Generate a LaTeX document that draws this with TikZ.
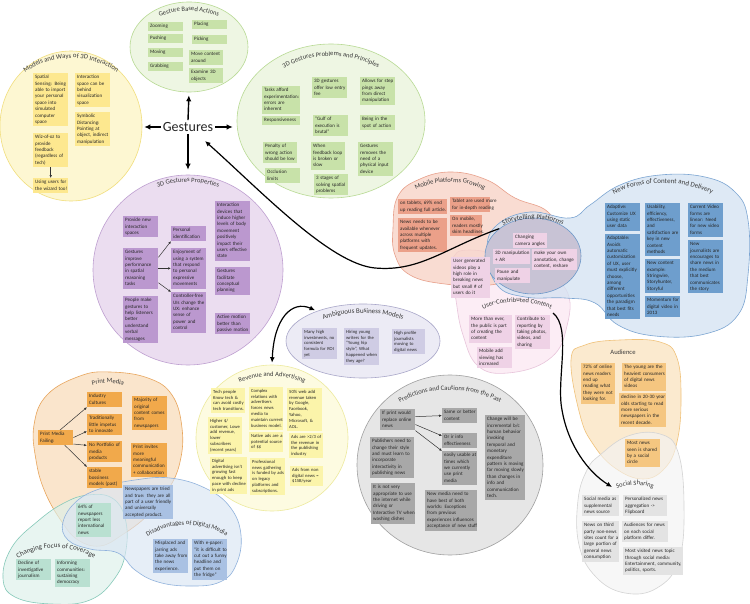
\documentclass[tikz,border=0pt]{standalone}
\usepackage{fontspec}
\setmainfont{Carlito}
\usetikzlibrary{shapes.geometric,arrows.meta,decorations.text}
\definecolor{cGF}{HTML}{EEF6E3}\definecolor{cGD}{HTML}{B8DA94}\definecolor{cGB}{HTML}{C8E2A9}
\definecolor{cYF}{HTML}{FDF7D2}\definecolor{cYD}{HTML}{F1DE7C}\definecolor{cYB}{HTML}{FDE88F}
\definecolor{cPF}{HTML}{EBDDF0}\definecolor{cPD}{HTML}{BFA0D1}\definecolor{cPB}{HTML}{BB98CF}
\definecolor{cMF}{HTML}{F7D1C4}\definecolor{cMD}{HTML}{E8A08B}\definecolor{cMB}{HTML}{EBA089}
\definecolor{cSF}{HTML}{C8C3D5}\definecolor{cSD}{HTML}{6E99C9}\definecolor{cKB}{HTML}{EFD2E6}
\definecolor{cUF}{HTML}{FBE7F2}\definecolor{cUD}{HTML}{E8C5DB}
\definecolor{cNF}{HTML}{D3E2F2}\definecolor{cND}{HTML}{7CA5D2}\definecolor{cNB}{HTML}{6E9ECD}
\definecolor{cOF}{HTML}{FAE3BF}\definecolor{cOD}{HTML}{F0C27A}\definecolor{cOB}{HTML}{F5C680}
\definecolor{cXF}{HTML}{F3F3F3}\definecolor{cXD}{HTML}{D4D4D4}\definecolor{cXB}{HTML}{E3E3E3}
\definecolor{cAF}{HTML}{ECEBF5}\definecolor{cAD}{HTML}{A9A7C9}\definecolor{cAB}{HTML}{CFCCE4}
\definecolor{cRF}{HTML}{FDFBE1}\definecolor{cRD}{HTML}{EDEA9E}\definecolor{cRB}{HTML}{FBF4AA}
\definecolor{cQF}{HTML}{E6E6E6}\definecolor{cQD}{HTML}{A0A0A0}\definecolor{cQB}{HTML}{A8A8A8}
\definecolor{cIF}{HTML}{F9DDBC}\definecolor{cID}{HTML}{E8A55C}\definecolor{cIB}{HTML}{F1A94B}
\definecolor{cTF}{HTML}{DCF0EA}\definecolor{cTD}{HTML}{86C9B9}\definecolor{cTB}{HTML}{B9E0D1}
\definecolor{cDF}{HTML}{DAE5F4}\definecolor{cDD}{HTML}{90B2DC}\definecolor{cDB}{HTML}{A9C1E3}
\definecolor{cTT}{HTML}{383838}
\newcommand\bxf{\fontsize{5}{6.4}\selectfont}
\newcommand\bxs{\fontsize{4.6}{5.8}\selectfont}
\newcommand\tfA{\fontsize{6.6}{8}\selectfont}
\newcommand\tfB{\fontsize{7}{8.4}\selectfont}
\newcommand\tfC{\fontsize{6.8}{8.2}\selectfont}
\newcommand\Bx[6]{\pgfmathsetmacro\bxw{#5-4}\node[bx,#2,text width=\bxw pt] (#1) at (#3,#4) {\begin{tabular}{@{}l@{}}#6\end{tabular}};}
\newcommand\ttl[8]{\path[decorate,decoration={text along path,text align=center,text color=cTT,text={|#8|#7}}] (#1,#2) ++(#5:#3 and #4) arc[start angle=#5,end angle=#6,x radius=#3,y radius=#4];}
\tikzset{
 bx/.style={anchor=north west,inner xsep=2pt,inner ysep=1pt,align=left,text=black!85},
 boxG/.style={fill=cGB,font=\bxf}, boxY/.style={fill=cYB,font=\bxf}, boxP/.style={fill=cPB,font=\bxf},
 boxM/.style={fill=cMB,font=\bxf}, boxK/.style={fill=cKB,font=\bxf}, boxN/.style={fill=cNB,font=\bxf},
 boxO/.style={fill=cOB,font=\bxf}, boxX/.style={fill=cXB,font=\bxf}, boxA/.style={fill=cAB,font=\bxs},
 boxR/.style={fill=cRB,font=\bxs}, boxQ/.style={fill=cQB,font=\bxf}, boxI/.style={fill=cIB,font=\bxf},
 boxT/.style={fill=cTB,font=\bxf}, boxD/.style={fill=cDB,font=\bxf},
 el/.style={ellipse,line width=0.6pt,inner sep=0pt},
 blob/.style={line width=0.6pt,fill opacity=0.75},
 garr/.style={line width=1.4pt,black,-{Latex[length=6pt,width=5.5pt]}},
 larr/.style={line width=1.2pt,black,-{Latex[length=5.5pt,width=5pt]}},
 larrb/.style={line width=1.2pt,black,{Latex[length=5.5pt,width=5pt]}-{Latex[length=5.5pt,width=5pt]}},
 sarr/.style={line width=0.5pt,black!80,-{Latex[length=2.8pt,width=2.4pt]}}
}
\begin{document}
\begin{tikzpicture}[x=1pt,y=-1pt]
\useasboundingbox (0,0) rectangle (750,604);
\fill[white] (0,0) rectangle (750,604);
% ellipses
\node[el,fill=cGF,draw=cGD,minimum width=118pt,minimum height=90pt] (actE) at (189,47) {};
\node[el,fill=cYF,draw=cYD,minimum width=142pt,minimum height=150pt] (modE) at (71,126) {};
\node[el,fill=cGF,draw=cGD,minimum width=188pt,minimum height=154pt] (probE) at (331,121) {};
\node[el,fill=cPF,draw=cPD,minimum width=190pt,minimum height=190pt] (propE) at (188,270) {};
\node[el,fill=cAF,draw=cAD,minimum width=154pt,minimum height=74pt] (abE) at (363,341) {};
\node[el,fill=cRF,draw=cRD,minimum width=152pt,minimum height=146pt] (rvE) at (272,438) {};
\node[el,fill=cQF,draw=cQD,minimum width=186pt,minimum height=180pt] (prE) at (450,465) {};
% blobs
\draw[blob,fill=cUF,draw=cUD] plot[smooth cycle,tension=0.7] coordinates {(452,262) (470,250) (520,262) (565,288) (566,330) (548,360) (508,373) (478,366) (463,335) (456,300)};
\draw[blob,fill=cMF,draw=cMD] plot[smooth cycle,tension=0.7] coordinates {(393,228) (398,196) (420,179) (452,172) (487,180) (515,198) (548,212) (560,240) (535,272) (490,285) (445,284) (410,275) (395,255)};
\draw[blob,fill=cNF,draw=cND] plot[smooth cycle,tension=0.7] coordinates {(487,250) (497,225) (530,212) (570,218) (590,205) (620,185) (660,175) (705,177) (735,192) (748,220) (748,275) (738,315) (705,334) (655,336) (618,325) (595,303) (565,298) (525,297) (497,285)};
\node[el,fill=cSF,draw=cSD,minimum width=96pt,minimum height=76pt] (stE) at (533,256) {};
\draw[blob,fill=cOF,draw=cOD] plot[smooth cycle,tension=0.7] coordinates {(571,360) (585,345) (620,340) (660,342) (677,358) (681,400) (677,442) (665,468) (643,479) (615,468) (593,444) (580,415)};
\draw[blob,fill=cXF,draw=cXD,fill opacity=0.65] plot[smooth cycle,tension=0.7] coordinates {(600,455) (628,436) (660,434) (678,452) (684,505) (679,560) (657,588) (625,593) (596,577) (579,545) (578,500) (587,470)};
\draw[blob,fill=cIF,draw=cID] plot[smooth cycle,tension=0.7] coordinates {(80,376) (110,372) (148,378) (172,395) (182,428) (180,462) (168,490) (148,515) (122,535) (100,546) (78,540) (62,522) (45,492) (36,460) (34,425) (47,395)};
\draw[blob,fill=cTF,draw=cTD,fill opacity=0.65] plot[smooth cycle,tension=0.7] coordinates {(3,578) (12,547) (38,521) (64,503) (88,495) (112,498) (125,518) (126,550) (115,578) (90,600) (52,604) (15,597)};
\draw[blob,fill=cDF,draw=cDD,fill opacity=0.65] plot[smooth cycle,tension=0.7] coordinates {(63,522) (78,500) (105,487) (135,480) (170,478) (205,488) (230,507) (241,535) (236,565) (220,582) (190,586) (158,582) (135,570) (118,553) (90,549) (68,540)};
% titles
\ttl{189}{47}{55}{36}{200}{340}{Gesture Based Actions}{\tfA}
\ttl{71}{128}{76}{70}{190}{350}{Models and Ways of 3D Interaction}{\tfC}
\ttl{331}{121}{81}{65}{195}{345}{3D Gestures Problems and Principles}{\tfA}
\ttl{188}{270}{88}{88}{225}{315}{3D Gestures Properties}{\tfA}
\ttl{450}{242}{70}{60}{215}{325}{Mobile Platforms Growing}{\tfA}
\ttl{533}{255}{54}{36}{190}{350}{Storytelling Platforms}{\tfB}
\ttl{517}{360}{71}{58}{220}{320}{User-Contributed Content}{\tfA}
\ttl{663}{260}{95}{77}{215}{325}{New Forms of Content and Delivery}{\tfB}
\ttl{635}{540}{55}{55}{240}{300}{Social Sharing}{\tfA}
\ttl{363}{341}{62}{28}{190}{350}{Ambiguous Business Models}{\tfB}
\ttl{272}{438}{70}{62}{215}{325}{Revenue and Advertising}{\tfA}
\ttl{450}{465}{90}{75}{210}{330}{Predictions and Cautions from the Past}{\tfA}
\ttl{108}{440}{57}{57}{245}{295}{Print Media}{\tfA}
\ttl{56}{600}{64}{52}{195}{345}{Changing Focus of Coverage}{\tfB}
\ttl{187}{583}{66}{58}{195}{345}{Disadvantages of Digital Media}{\tfA}
\node[font=\tfA,text=cTT] (audT) at (623,352) {Audience};
\node[font=\fontsize{14}{16}\selectfont,text=black!85,inner sep=2pt] (gest) at (188,127) {Gestures};
% actions
\Bx{aZoom}{boxG}{148}{22}{35}{Zooming}
\Bx{aPush}{boxG}{148}{34}{35}{Pushing}
\Bx{aMove}{boxG}{148}{48}{35}{Moving}
\Bx{aGrab}{boxG}{148}{62}{35}{Grabbing}
\Bx{aPlace}{boxG}{192}{20}{35}{Placing}
\Bx{aPick}{boxG}{192}{35}{35}{Picking}
\Bx{aMoveC}{boxG}{189}{50}{34}{Move content\\around}
\Bx{aExam}{boxG}{189}{68}{34}{Examine 3D\\objects}
% models
\Bx{mSpat}{boxY}{33}{73}{35}{Spatial\\Sensing: Being\\able to import\\your personal\\space into\\simulated\\computer\\space}
\Bx{mInter}{boxY}{75}{73}{35}{Interaction\\space can be\\behind\\visualization\\space}
\Bx{mSymb}{boxY}{75}{112}{35}{Symbolic\\Distancing:\\Pointing at\\object, indirect\\manipulation}
\Bx{mWiz}{boxY}{33}{133}{35}{Wiz-of-oz to\\provide\\feedback\\(regardless of\\tech)}
\Bx{mUsing}{boxY}{33}{178}{35}{Using users for\\the wizard too!}
% problems
\Bx{pTask}{boxG}{262}{86}{38}{Tasks afford\\experimentation:\\errors are\\inherent}
\Bx{pResp}{boxG}{262}{116}{38}{Responsiveness}
\Bx{pPen}{boxG}{263}{142}{34}{Penalty of\\wrong action\\should be low}
\Bx{pOccl}{boxG}{265}{168}{35}{Occlusion\\limits}
\Bx{pLow}{boxG}{312}{77}{35}{3D gestures\\offer low entry\\fee}
\Bx{pGulf}{boxG}{313}{115}{35}{“Gulf of\\execution is\\brutal”}
\Bx{pFeed}{boxG}{311}{142}{34}{When\\feedback loop\\is broken or\\slow}
\Bx{pStag}{boxG}{314}{174}{34}{3 stages of\\solving spatial\\problems}
\Bx{pAllow}{boxG}{360}{77}{35}{Allows for step\\pings away\\from direct\\manipulation}
\Bx{pBeing}{boxG}{360}{115}{35}{Being in the\\spot of action}
\Bx{pRem}{boxG}{358}{142}{35}{Gestures\\removes the\\need of a\\physical input\\device}
% properties
\Bx{gProv}{boxP}{123}{216}{35}{Provide new\\interaction\\spaces}
\Bx{gImp}{boxP}{123}{248}{35}{Gestures\\improve\\performance\\in spatial\\reasoning\\tasks}
\Bx{gPeople}{boxP}{123}{296}{35}{People make\\gestures to\\help listeners\\better\\understand\\verbal\\messages}
\Bx{gPers}{boxP}{171}{226}{35}{Personal\\identification}
\Bx{gEnj}{boxP}{171}{248}{35}{Enjoyment of\\using a system\\that respond\\to personal\\expressive\\movements}
\Bx{gCtrl}{boxP}{171}{292}{35}{Controller-free\\UIs change the\\UX: enhance\\sense of\\power and\\control}
\Bx{gDev}{boxP}{215}{201}{35}{Interaction\\devices that\\induce higher\\levels of body\\movement\\positively\\impact their\\users effective\\state}
\Bx{gFac}{boxP}{215}{267}{35}{Gestures\\facilitate\\conceptual\\planning}
\Bx{gAct}{boxP}{215}{313}{35}{Active motion\\better than\\passive motion}
% mobile
\Bx{mbTab}{boxM}{398}{199}{49}{on tablets, 69\% end\\up reading full article.}
\Bx{mbUsed}{boxM}{450}{197}{40}{Tablet are used more\\for in-depth reading}
\Bx{mbNews}{boxM}{398}{218}{49}{News needs to be\\available whenever\\across multiple\\platforms with\\frequent updates.}
\Bx{mbMob}{boxM}{450}{215}{32}{On mobile,\\readers mostly\\skim headlines.}
\Bx{mbUGV}{boxK}{451}{257}{39}{User generated\\videos play a\\high role in\\breaking news\\but small \# of\\users do it}
% storytelling
\Bx{sCam}{boxK}{513}{233}{34}{Changing\\camera angles}
\Bx{sMan}{boxK}{493}{249}{37}{3D manipulation\\+ AR}
\Bx{sMake}{boxK}{532}{249}{45}{make your own\\annotation, change\\content, reshare}
\Bx{sPause}{boxK}{495}{268}{35}{Pause and\\manipulate}
% user contributed
\Bx{uMore}{boxK}{469}{315}{43}{More than ever,\\the public is part\\of creating the\\content}
\Bx{uContr}{boxK}{515}{315}{35}{Contribute to\\reporting by\\taking photos,\\videos, and\\sharing}
\Bx{uMob}{boxK}{477}{347}{35}{Mobile add\\viewing has\\increased}
% new forms
\Bx{nAdaptive}{boxN}{605}{203}{35}{Adaptive:\\Customize UX\\using static\\user data}
\Bx{nAdaptable}{boxN}{605}{234}{35}{Adaptable:\\Avoids\\automatic\\customization\\of UX, user\\must explicitly\\choose,\\among\\different\\opportunities\\the paradigm\\that best fits\\needs}
\Bx{nUsab}{boxN}{645}{203}{35}{Usability,\\efficiency,\\effectiveness,\\and\\satisfaction are\\key in new\\content\\methods}
\Bx{nNew}{boxN}{645}{259}{35}{New content\\example:\\Stringwire,\\Storyhunter,\\Storyful}
\Bx{nMom}{boxN}{645}{296}{35}{Momentum for\\digital video in\\2013}
\Bx{nCurr}{boxN}{688}{203}{35}{Current Video\\forms are\\linear: Need\\for new video\\forms}
\Bx{nJourn}{boxN}{688}{240}{35}{New\\journalists are\\encourages to\\share news in\\the medium\\that best\\communicates\\the story}
% audience
\Bx{au72}{boxO}{581}{363}{34}{72\% of online\\news readers\\end up\\reading what\\they were not\\looking for.}
\Bx{auYoung}{boxO}{622}{363}{44}{The young are the\\heaviest consumers\\of digital news\\videos}
\Bx{auDecl}{boxO}{619}{393}{47}{decline in 20-30 year\\olds starting to read\\more serious\\newspapers in the\\recent decade.}
\Bx{auMost}{boxO}{625}{439}{35}{Most news\\seen is shared\\by a social\\circle}
% social
\Bx{soMedia}{boxX}{582}{495}{37}{Social media as\\supplemental\\news source}
\Bx{soPers}{boxX}{623}{495}{44}{Personalized news\\aggregation ->\\Flipboard}
\Bx{soThird}{boxX}{582}{521}{37}{News on third\\party non-news\\sites count for a\\large portion of\\general news\\consumption}
\Bx{soAud}{boxX}{622}{521}{46}{Audiences for news\\on each social\\platform differ.}
\Bx{soMost}{boxX}{623}{547}{60}{Most visited news topic\\through social media:\\Entertainment, community,\\politics, sports.}
% ambiguous
\Bx{abMany}{boxA}{302}{328}{35}{Many high\\investments, no\\consistent\\formula for ROI\\yet}
\Bx{abHire}{boxA}{344}{328}{35}{Hiring young\\writers for the\\“Young hip\\style”, What\\happened when\\they age?}
\Bx{abHigh}{boxA}{392}{329}{33}{High profile\\journalists\\moving to\\digital news}
% revenue
\Bx{rTech}{boxR}{211}{388}{34}{Tech people\\Know tech \&\\can avoid costly\\tech transitions.}
\Bx{rHigh}{boxR}{208}{417}{34}{Higher \$/\\customer, Lowe\\add revenue,\\lower\\subscribers\\(recent years)}
\Bx{rDig}{boxR}{210}{457}{37}{Digital\\advertising isn't\\growing fast\\enough to keep\\pace with decline\\in print ads}
\Bx{rComp}{boxR}{249}{387}{34}{Complex\\relations with\\advertisers\\forces news\\media to\\maintain current\\business model.}
\Bx{rNat}{boxR}{249}{432}{34}{Native ads are a\\potential source\\of \$\$}
\Bx{rProf}{boxR}{250}{458}{35}{Professional\\news gathering\\is funded by ads\\on legacy\\platforms and\\subscriptions.}
\Bx{rFifty}{boxR}{287}{388}{35}{50\% web add\\revenue taken\\by Google,\\Facebook,\\Yahoo,\\Microsoft, \&\\AOL.}
\Bx{rAds}{boxR}{289}{433}{34}{Ads are >2/3 of\\the revenue in\\the publishing\\industry}
\Bx{rNon}{boxR}{290}{466}{33}{Ads from non\\digital news =\\\$15B/year}
% predictions
\Bx{prIf}{boxQ}{380}{409}{35}{If print would\\replace online\\news}
\Bx{prPub}{boxQ}{370}{437}{44}{Publishers need to\\change their style\\and must learn to\\incorporate\\interactivity in\\publishing news}
\Bx{prNot}{boxQ}{371}{483}{44}{It is not very\\appropriate to use\\the internet while\\driving or\\Interactive TV when\\washing dishes}
\Bx{prSame}{boxQ}{442}{408}{35}{Same or better\\content}
\Bx{prOr}{boxQ}{442}{433}{35}{Or ir info\\effectiveness}
\Bx{prEasy}{boxQ}{442}{451}{35}{easily usable at\\times which\\we currently\\use print\\media}
\Bx{prNew}{boxQ}{425}{490}{52}{New media need to\\have best of both\\worlds: Exceptions\\from previous\\experiences influences\\acceptance of new stuff}
\Bx{prChange}{boxQ}{485}{415}{40}{Change will be\\incremental b/c\\human behavior\\invoking\\temporal and\\monetary\\expenditure\\pattern is moving\\far moving slowly\\than changes in\\info and\\communication\\tech.}
% print
\Bx{pmFail}{boxI}{38}{430}{35}{Print Media\\Failing:}
\Bx{pmInd}{boxI}{87}{392}{35}{Industry\\Cultures}
\Bx{pmTrad}{boxI}{87}{414}{35}{Traditionally\\little impetus\\to innovate}
\Bx{pmNo}{boxI}{87}{441}{35}{No Portfolio of\\media\\products}
\Bx{pmStable}{boxI}{87}{467}{35}{stable\\bossiness\\models (past)}
\Bx{pmMaj}{boxI}{132}{396}{35}{Majority of\\original\\content comes\\from\\newspapers}
\Bx{pmInv}{boxI}{131}{443}{36}{Print invites\\more\\meaningful\\communication\\+ collaboration}
% changing focus
\Bx{cDecl}{boxT}{16}{559}{35}{Decline of\\investigative\\journalism}
\Bx{cInf}{boxT}{55}{559}{35}{Informing\\communities:\\sustaining\\democracy}
\Bx{cSix}{boxT}{76}{503}{35}{64\% of\\newspapers\\report less\\international\\news}
% disadvantages
\Bx{dNews}{boxD}{123}{485}{50}{Newspapers are tried\\and true: they are all\\part of a user friendly\\and universally\\accepted product.}
\Bx{dMis}{boxD}{153}{539}{35}{Misplaced and\\jarring ads\\take away from\\the news\\experience.}
\Bx{dPaper}{boxD}{192}{539}{35}{With e-paper:\\“it is difficult to\\cut out a funny\\headline and\\put them on\\the fridge”}
% gesture arrows
\draw[garr,shorten >=3pt] (gest.north) -- (actE.south);
\draw[garr,shorten >=2pt] (gest.west) -- (gest.west -| modE.east);
\draw[garr,shorten >=4pt] (gest.east) -- (gest.east -| probE.west);
\draw[garr,shorten >=5pt] (gest.south) -- (propE.north);
% small arrows
\draw[sarr] (mWiz.south) -- (mUsing.north);
\draw[sarr] (gImp.32) -- (gPers.south west);
\draw[sarr] (gImp.east) -- (gEnj.west);
\draw[sarr] (gImp.-39) -- (gCtrl.north west);
\draw[sarr] (prIf.10) -- (prSame.west);
\draw[sarr] (prIf.-15) -- (prOr.165);
\draw[sarr] (prIf.south east) -- (prEasy.north west);
\draw[sarr] (pmFail.60) -- (pmInd.south west);
\draw[sarr] (pmFail.east) -- (pmTrad.200);
\draw[sarr] (pmFail.-20) -- (pmNo.160);
\draw[sarr] (pmFail.-40) -- (pmStable.north west);
% long connectors
\coordinate (gTip) at (205,141);
\coordinate (ucEnd) at (553,313);
\coordinate (ssTip) at (612,487);
\draw[larr] (stE.141) .. controls (445,248) and (420,272) .. (375,268) .. controls (330,264) and (260,190) .. (gTip);
\draw[larrb,shorten <=2pt,shorten >=2pt] (rvE.north) .. controls (274,318) and (292,300) .. (abE.147);
\draw[larr] (ucEnd) .. controls (572,328) and (556,380) .. (562,410) .. controls (568,445) and (588,472) .. (ssTip);
\end{tikzpicture}
\end{document}
